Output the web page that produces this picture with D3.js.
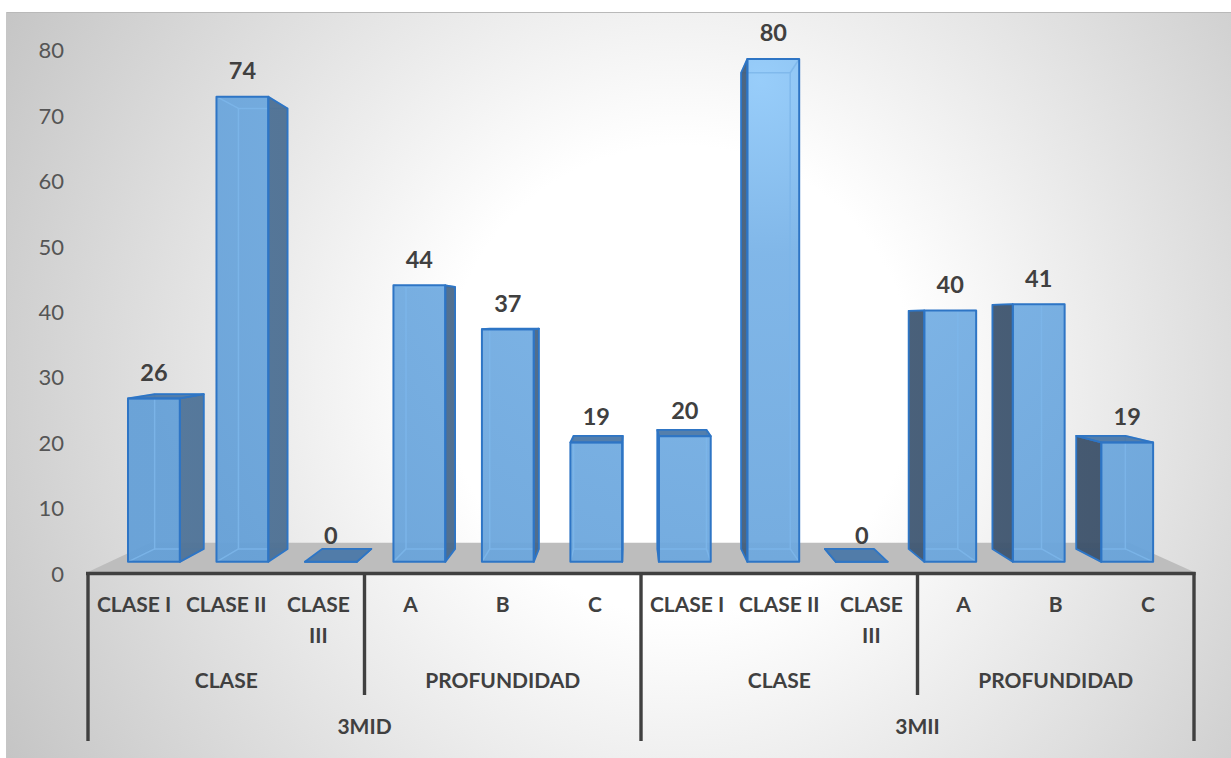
<!DOCTYPE html>
<html>
<head>
<meta charset="utf-8">
<script src="https://cdn.jsdelivr.net/npm/d3@7"></script>
<style>
  html, body { margin: 0; padding: 0; background: #ffffff; }
  svg { display: block; font-family: Lato, "Open Sans", sans-serif; }
</style>
</head>
<body>
<svg id="chart" width="1231" height="758"></svg>
<script>
// ---- data ----
const schools = ["3MID", "3MII"];
const groups = ["CLASE", "PROFUNDIDAD"];
const groupCategories = [["CLASE I", "CLASE II", "CLASE III"], ["A", "B", "C"]];
const values3MID = [26, 74, 0, 44, 37, 19];
const values3MII = [20, 80, 0, 40, 41, 19];
const yTicks = [0, 10, 20, 30, 40, 50, 60, 70, 80];

const seriesBySchool = { "3MID": values3MID, "3MII": values3MII };

// flatten into one row per bar
const rows = [];
schools.forEach(s => {
  let i = 0;
  groups.forEach((g, gi) => {
    groupCategories[gi].forEach(c => {
      rows.push({ school: s, group: g, cat: c, value: seriesBySchool[s][i], key: s + "|" + g + "|" + c });
      i++;
    });
  });
});

const svg = d3.select("#chart");
const W = 1231, H = 758;

// ---- scales (front plane of the floor) ----
const x = d3.scaleBand().domain(rows.map(d => d.key)).range([88, 1194]).padding(0);
const y = d3.scaleLinear().domain([0, 80]).range([572, 48.2]);

// simple perspective toward a vanishing point
const VP = [630, 318];
const S_FRONT = 0.96, S_BACK = 0.909, S_FLOOR_BACK = 0.885;
const proj = (X, Y, s) => [VP[0] + (X - VP[0]) * s, VP[1] + (Y - VP[1]) * s];

// ---- background ----
const defs = svg.append("defs");
const bg = defs.append("radialGradient").attr("id", "bgGrad")
  .attr("gradientUnits", "userSpaceOnUse").attr("cx", 680).attr("cy", 380).attr("r", 780);
bg.append("stop").attr("offset", 0).attr("stop-color", "#ffffff");
bg.append("stop").attr("offset", 0.3).attr("stop-color", "#ffffff");
bg.append("stop").attr("offset", 1).attr("stop-color", "#c4c4c4");

const faceGrad = defs.append("radialGradient").attr("id", "faceGrad")
  .attr("gradientUnits", "userSpaceOnUse").attr("cx", 760).attr("cy", 80).attr("r", 700);
faceGrad.append("stop").attr("offset", 0).attr("stop-color", "#93cbfa");
faceGrad.append("stop").attr("offset", 0.25).attr("stop-color", "#7ab3e7");
faceGrad.append("stop").attr("offset", 1).attr("stop-color", "#65a0d7");

const sideGrad = defs.append("linearGradient").attr("id", "sideGrad")
  .attr("gradientUnits", "userSpaceOnUse").attr("x1", 100).attr("y1", 0).attr("x2", 1150).attr("y2", 0);
sideGrad.append("stop").attr("offset", 0).attr("stop-color", "#50769c");
sideGrad.append("stop").attr("offset", 1).attr("stop-color", "#3b4f67");

svg.append("rect").attr("x", 6).attr("y", 12).attr("width", W - 6).attr("height", H - 12)
  .attr("fill", "url(#bgGrad)");
svg.append("line").attr("x1", 6).attr("x2", W).attr("y1", 12.5).attr("y2", 12.5)
  .attr("stroke", "#b9b9b9").attr("stroke-width", 1);
svg.append("line").attr("x1", 6.5).attr("x2", 6.5).attr("y1", 12).attr("y2", H)
  .attr("stroke", "#c6c6c6").attr("stroke-width", 1);

// ---- floor ----
const x0 = x.range()[0], x1 = x.range()[1], yb = y(0);
const floorPts = [proj(x0, yb, 1), proj(x1, yb, 1), proj(x1, yb, S_FLOOR_BACK), proj(x0, yb, S_FLOOR_BACK)];
svg.append("polygon").attr("points", floorPts.map(p => p.join(",")).join(" "))
  .attr("fill", "#bdbdbd");

// ---- 3D bars ----
const EDGE = "#2e75c5";
const barG = svg.append("g");
const poly = pts => pts.map(p => p[0].toFixed(2) + "," + p[1].toFixed(2)).join(" ");

rows.forEach(d => {
  const cx = x(d.key) + x.bandwidth() / 2;
  const hw = x.bandwidth() * 0.293;
  const X0 = cx - hw, X1 = cx + hw, Yt = y(d.value), Yb = y(0);

  const fTL = proj(X0, Yt, S_FRONT), fTR = proj(X1, Yt, S_FRONT);
  const fBR = proj(X1, Yb, S_FRONT), fBL = proj(X0, Yb, S_FRONT);
  const bTL = proj(X0, Yt, S_BACK), bTR = proj(X1, Yt, S_BACK);
  const bBR = proj(X1, Yb, S_BACK), bBL = proj(X0, Yb, S_BACK);

  const g = barG.append("g");

  // front face fill
  g.append("polygon").attr("points", poly([fTL, fTR, fBR, fBL]))
    .attr("fill", "url(#faceGrad)").attr("fill-opacity", 0.95);

  // edges seen through the translucent box
  const hidden = g.append("g").attr("stroke", "#7db6ea").attr("stroke-width", 1.5)
    .attr("stroke-opacity", 0.85).attr("fill", "none");
  hidden.append("polygon").attr("points", poly([bTL, bTR, bBR, bBL]));
  [[fTL, bTL], [fTR, bTR], [fBR, bBR], [fBL, bBL]].forEach(([a, b]) =>
    hidden.append("line").attr("x1", a[0]).attr("y1", a[1]).attr("x2", b[0]).attr("y2", b[1]));

  // inner side face, turned toward the vanishing point
  const side = (cx * S_FRONT + VP[0] * (1 - S_FRONT)) < VP[0]
    ? [fTR, bTR, bBR, fBR]
    : [fTL, bTL, bBL, fBL];
  g.append("polygon").attr("points", poly(side))
    .attr("fill", "url(#sideGrad)").attr("fill-opacity", 0.95)
    .attr("stroke", EDGE).attr("stroke-width", 1.8).attr("stroke-linejoin", "round");

  // top face when it lies below the eye line
  if (bTL[1] < fTL[1] - 0.01) {
    g.append("polygon").attr("points", poly([fTL, fTR, bTR, bTL]))
      .attr("fill", "#4b78a8").attr("fill-opacity", 0.95)
      .attr("stroke", EDGE).attr("stroke-width", 1.8).attr("stroke-linejoin", "round");
  }

  // front face outline
  g.append("polygon").attr("points", poly([fTL, fTR, fBR, fBL]))
    .attr("fill", "none").attr("stroke", EDGE).attr("stroke-width", 2).attr("stroke-linejoin", "round");

  // value label
  const fc = proj(cx, Yt, S_FRONT);
  svg.append("text").attr("x", fc[0]).attr("y", fc[1] - 26).attr("dy", "0.36em")
    .attr("text-anchor", "middle").attr("font-size", 23.5).attr("font-weight", 700)
    .attr("fill", "#404040").text(d.value);
});

// ---- value axis labels ----
svg.append("g").selectAll("text").data(yTicks).join("text")
  .attr("x", 64).attr("y", v => y(v) + 2).attr("dy", "0.36em")
  .attr("text-anchor", "end").attr("font-size", 22).attr("fill", "#555555")
  .text(v => v);

// ---- category axis (three levels) ----
const axisG = svg.append("g").attr("stroke", "#404040").attr("stroke-width", 3.4).attr("stroke-linecap", "butt");
axisG.append("line").attr("x1", x0 - 2).attr("x2", x1 + 1.5).attr("y1", 573.5).attr("y2", 573.5);

const ROW1 = 604, ROW1B = 635, ROW2 = 680, ROW3 = 726.5;
const GROUP_LINE_END = 695, SCHOOL_LINE_END = 741;

// group and school boundaries from the band scale
const keysOf = f => rows.filter(f).map(r => r.key);
const bounds = [];
schools.forEach(s => {
  const sk = keysOf(r => r.school === s);
  bounds.push({ x: x(sk[0]), end: SCHOOL_LINE_END });
  groups.forEach((g, gi) => {
    if (gi > 0) {
      const gk = keysOf(r => r.school === s && r.group === g);
      bounds.push({ x: x(gk[0]), end: GROUP_LINE_END });
    }
  });
});
bounds.push({ x: x1, end: SCHOOL_LINE_END });
bounds.forEach(b => axisG.append("line").attr("x1", b.x).attr("x2", b.x).attr("y1", 572).attr("y2", b.end));

const labG = svg.append("g").attr("font-size", 21).attr("font-weight", 700).attr("fill", "#404040")
  .attr("text-anchor", "middle");

// level 1: categories (long labels wrap)
rows.forEach(d => {
  const cx = x(d.key) + x.bandwidth() / 2;
  const words = d.cat.split(" ");
  if (d.cat === "CLASE III") {
    labG.append("text").attr("x", cx).attr("y", ROW1).attr("dy", "0.36em").text(words[0]);
    labG.append("text").attr("x", cx).attr("y", ROW1B).attr("dy", "0.36em").text(words[1]);
  } else {
    labG.append("text").attr("x", cx).attr("y", ROW1).attr("dy", "0.36em").text(d.cat);
  }
});

// level 2: groups
schools.forEach(s => groups.forEach(g => {
  const gk = keysOf(r => r.school === s && r.group === g);
  const cx = (x(gk[0]) + x(gk[gk.length - 1]) + x.bandwidth()) / 2;
  labG.append("text").attr("x", cx).attr("y", ROW2).attr("dy", "0.36em").text(g);
}));

// level 3: schools
schools.forEach(s => {
  const sk = keysOf(r => r.school === s);
  const cx = (x(sk[0]) + x(sk[sk.length - 1]) + x.bandwidth()) / 2;
  labG.append("text").attr("x", cx).attr("y", ROW3).attr("dy", "0.36em").text(s);
});
</script>
</body>
</html>
